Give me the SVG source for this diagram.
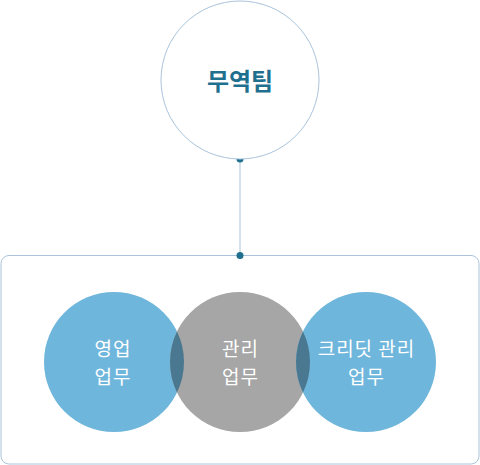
<svg xmlns="http://www.w3.org/2000/svg" width="480" height="465" viewBox="0 0 480 465">
<style>
.outline{fill:#fff;stroke:#aac4dc;stroke-width:1}
.dot{fill:#1f6f8f}
.blue{fill:#6fb6dc}
.gray{fill:#a6a6a6}
.lens{fill:#4a7891}
.lbl{font-family:"Noto Sans CJK KR","Noto Sans",sans-serif;font-size:19px;letter-spacing:1px;fill:#fff;text-anchor:middle}
.title{font-family:"Noto Sans CJK KR","Noto Sans",sans-serif;font-size:24px;font-weight:bold;fill:#1f6f8f;text-anchor:middle}
</style>
<rect width="480" height="465" fill="#fff"/>
<g id="group-box">
<rect class="outline" x="1" y="255.5" width="478" height="208.5" rx="8" ry="8"/>
</g>
<g id="connectors">
<line x1="240" y1="159" x2="240" y2="255" stroke="#aac4dc" stroke-width="1"/>
<circle class="dot" cx="240" cy="159" r="3.5"/>
<circle class="dot" cx="240" cy="255.5" r="3.5"/>
</g>
<g id="node-trade-team">
<circle class="outline" cx="240" cy="80" r="79"/>
<text class="title" x="240" y="89.5">무역팀</text>
</g>
<g id="circles">
<circle class="blue" cx="114" cy="362" r="70"/>
<circle class="gray" cx="240" cy="362" r="70"/>
<circle class="blue" cx="366" cy="362" r="70"/>
<path class="lens" d="M177,331.5 A70,70 0 0 1 177,392.5 A70,70 0 0 1 177,331.5 Z"/>
<path class="lens" d="M303,331.5 A70,70 0 0 1 303,392.5 A70,70 0 0 1 303,331.5 Z"/>
</g>
<g id="node-sales">
<text class="lbl" x="113" y="356">영업</text>
<text class="lbl" x="113" y="384">업무</text>
</g>
<g id="node-admin">
<text class="lbl" x="240.5" y="356">관리</text>
<text class="lbl" x="240.5" y="384">업무</text>
</g>
<g id="node-credit">
<text class="lbl" x="366.5" y="356">크리딧 관리</text>
<text class="lbl" x="366.5" y="384">업무</text>
</g>
</svg>
